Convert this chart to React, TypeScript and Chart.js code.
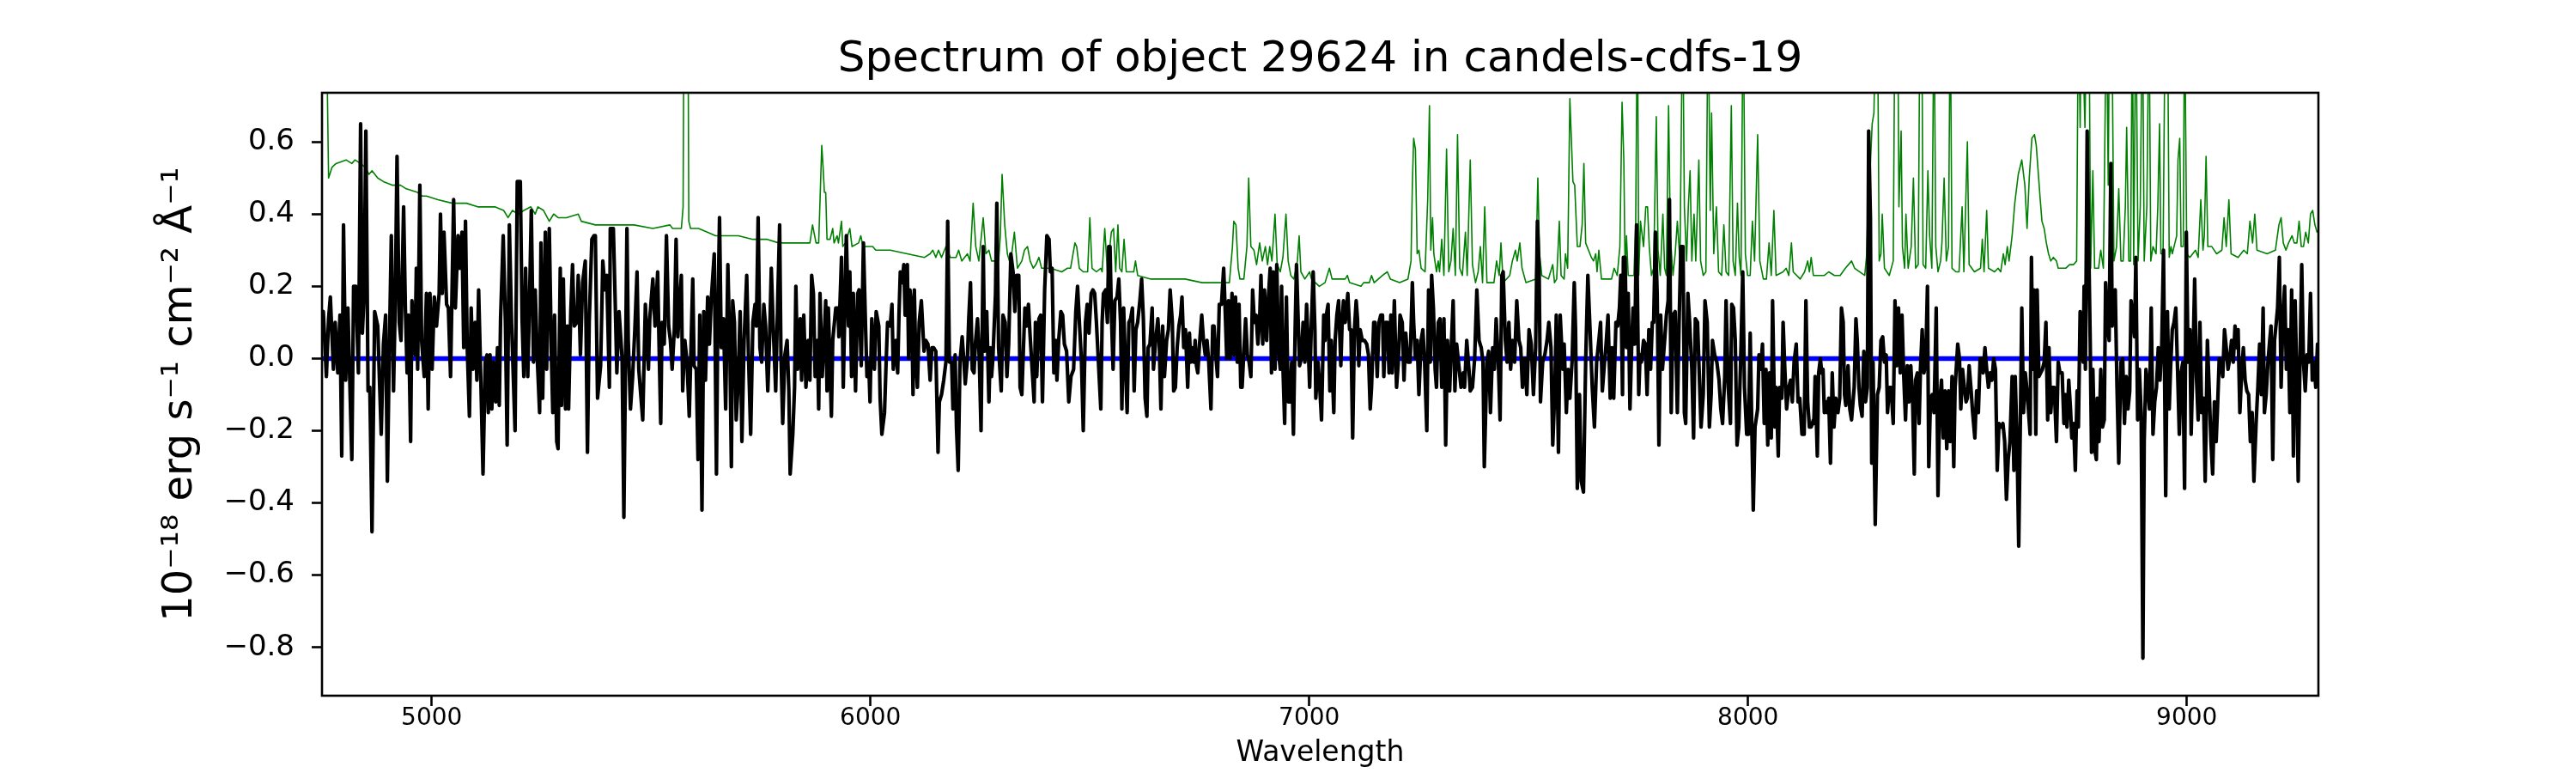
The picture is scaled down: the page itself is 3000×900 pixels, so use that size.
import React, { useEffect, useRef } from "react";
import { Chart, registerables } from "chart.js";

Chart.register(...registerables);

const FONT = "'DejaVu Sans', 'Liberation Sans', sans-serif";
const TITLE = "Spectrum of object 29624 in candels-cdfs-19";
const X_LABEL = "Wavelength";
const Y_LABEL = "10⁻¹⁸ erg s⁻¹ cm⁻² Å⁻¹";
const X_MIN = 4750;
const X_MAX = 9300;
const Y_MIN = -0.934;
const Y_MAX = 0.736;
const X_TICKS = [5000, 6000, 7000, 8000, 9000];
const X_TICK_LABELS = ["5000", "6000", "7000", "8000", "9000"];
const Y_TICKS = [-0.8, -0.6, -0.4, -0.2, 0, 0.2, 0.4, 0.6];
const Y_TICK_LABELS = ["−0.8", "−0.6", "−0.4", "−0.2", "0.0", "0.2", "0.4", "0.6"];

// Zero (continuum) line
const ZERO_LINE: [number, number][] = [[4750, 0], [9300, 0]];

// Observed flux (black), read segment by segment
const FLUX_A: [number, number][] = [[4750,0.12],[4753,0.13],[4760,-0.05],[4765,0.11],[4769,0.17],[4776,-0.03],[4780,0.10],[4786,-0.04],[4791,0.12],[4795,-0.27],[4799,0.37],[4804,-0.06],[4809,0.14],[4818,-0.28],[4822,0.20],[4827,0.20],[4833,-0.04],[4838,0.65],[4842,0.07],[4846,0.18],[4850,0.63],[4855,-0.09],[4859,-0.08],[4864,-0.48],[4870,0.13],[4877,0.09],[4885,-0.21],[4890,0.04],[4895,0.12],[4899,-0.34],[4903,-0.01],[4908,0.34],[4913,-0.09],[4917,0.16],[4921,0.56],[4926,0.10],[4930,0.05],[4936,0.42],[4940,0.14],[4944,-0.04],[4947,0.12],[4952,-0.23],[4955,0.16],[4962,0.01],[4965,0.25],[4968,-0.03],[4973,0.48],[4977,0.05],[4983,-0.05],[4988,0.18],[4992,-0.14],[4996,0.18],[5001,-0.03],[5006,0.17],[5011,0.09],[5017,0.18],[5020,0.40],[5024,0.18],[5028,0.35],[5034,0.15],[5038,0.14],[5043,-0.05],[5050,0.44],[5054,0.14],[5060,0.34],[5064,0.25],[5069,0.35],[5073,0.03],[5077,0.38],[5081,0.03],[5086,-0.16],[5090,0.14],[5094,-0.03],[5099,0.10],[5103,-0.06],[5107,0.19],[5112,-0.06],[5117,-0.32],[5122,-0.01],[5126,0.01],[5129,-0.15],[5133,0.01],[5137,-0.14],[5141,-0.01],[5146,-0.12],[5150,0.03],[5154,-0.13],[5157,0.11],[5163,0.34],[5168,0.10],[5172,-0.24],[5177,0.37],[5182,0.10],[5190,-0.20],[5195,0.49],[5202,0.49],[5206,0.11],[5210,-0.05],[5214,0.25],[5219,-0.05],[5223,0.16],[5227,0.41],[5232,-0.01],[5236,0.19],[5241,-0.01],[5246,-0.15],[5249,0.32],[5253,-0.11],[5259,0.35],[5262,-0.03],[5268,0.36],[5273,0.00],[5276,-0.15],[5280,0.12],[5285,-0.23],[5288,-0.25],[5293,0.25],[5296,-0.13],[5300,0.22],[5305,-0.14],[5309,0.09],[5312,-0.14],[5317,0.13],[5321,0.26],[5325,0.09]];
const FLUX_B: [number, number][] = [[5331,0.10],[5334,0.23],[5339,0.01],[5344,0.21],[5350,0.27],[5355,-0.26],[5359,0.10],[5365,0.33],[5370,0.34],[5373,0.34],[5378,-0.11],[5385,-0.02],[5390,0.27],[5395,0.19],[5399,0.23],[5405,-0.08],[5407,0.36],[5414,0.36],[5418,0.17],[5422,-0.04],[5427,0.13],[5434,0.00],[5438,-0.44],[5445,0.36],[5448,0.05],[5453,-0.14],[5458,-0.05],[5463,0.08],[5468,0.24],[5472,-0.03],[5481,-0.17],[5487,0.15],[5494,-0.03],[5497,0.11],[5504,0.22],[5509,0.09],[5515,0.24],[5518,0.05],[5522,-0.18],[5525,0.10],[5530,0.04],[5535,0.34],[5540,0.09],[5544,0.05],[5548,-0.03],[5553,0.08],[5557,0.33],[5561,0.06],[5566,0.17],[5569,0.23],[5572,-0.09],[5577,0.05],[5582,-0.01],[5587,-0.16],[5595,0.22],[5598,-0.02],[5603,-0.03],[5607,-0.28],[5611,0.12],[5616,-0.42],[5620,0.13],[5624,-0.06],[5629,0.17],[5633,0.04],[5637,0.16],[5644,0.29],[5649,-0.32],[5652,0.10],[5656,0.39],[5660,0.03],[5665,0.11],[5670,-0.14],[5675,0.26],[5680,-0.01],[5683,-0.30],[5686,0.16],[5690,0.10],[5694,-0.17],[5698,-0.08],[5703,0.13],[5707,-0.23],[5712,0.05],[5718,0.23],[5722,0.01],[5727,-0.21],[5732,0.10],[5737,0.15],[5740,0.09],[5744,0.39],[5748,0.03],[5752,-0.01],[5757,0.15],[5761,0.09],[5766,-0.09],[5770,0.05],[5774,0.25],[5778,0.10],[5784,-0.09],[5789,0.18],[5793,0.37],[5796,0.01],[5800,-0.18],[5805,0.01],[5810,0.05],[5814,-0.09],[5817,-0.32],[5823,-0.21],[5827,-0.08],[5830,0.20],[5834,-0.03],[5840,0.11],[5843,-0.06],[5848,0.12],[5853,-0.08],[5858,0.05],[5862,-0.06],[5866,0.23],[5870,0.18],[5874,-0.05],[5879,0.05],[5882,-0.14],[5885,0.18],[5890,-0.05],[5894,0.04]];
const FLUX_C: [number, number][] = [[5898,0.16],[5901,-0.09],[5904,0.14],[5908,-0.03],[5911,-0.16],[5914,0.05],[5921,0.14],[5926,0.14],[5928,0.06],[5934,0.28],[5938,-0.08],[5942,0.16],[5945,0.34],[5950,0.09],[5953,0.24],[5957,-0.05],[5961,0.18],[5966,-0.09],[5971,0.18],[5974,0.19],[5979,-0.02],[5984,0.32],[5989,0.08],[5992,-0.05],[5996,-0.01],[5999,-0.12],[6003,0.11],[6009,-0.03],[6013,0.13],[6019,0.09],[6022,-0.11],[6026,-0.21],[6032,-0.15],[6036,0.00],[6039,0.10],[6045,0.09],[6049,0.15],[6052,-0.03],[6058,0.05],[6062,-0.04],[6065,0.12],[6068,0.24],[6072,0.21],[6076,0.26],[6079,0.12],[6084,0.26],[6087,0.00],[6090,0.19],[6094,0.14],[6097,-0.10],[6100,0.19],[6103,0.01],[6107,-0.08],[6111,0.10],[6116,0.16],[6122,0.02],[6126,0.05],[6131,0.04],[6136,-0.06],[6140,0.03],[6144,0.03],[6149,0.02],[6154,-0.26],[6157,-0.12],[6162,-0.10],[6167,-0.06],[6172,-0.01],[6176,0.38],[6180,-0.01],[6185,-0.01],[6188,-0.14],[6193,0.01],[6196,-0.19],[6200,-0.31],[6204,-0.01],[6209,0.06],[6213,-0.01],[6216,-0.07],[6221,0.00],[6224,0.11],[6228,0.21],[6232,-0.03],[6236,-0.04],[6239,0.04],[6244,0.11],[6248,0.00],[6252,-0.20],[6257,0.31],[6260,0.02],[6265,0.13],[6270,-0.12],[6273,0.03],[6276,-0.05],[6279,0.00],[6285,0.18],[6288,0.43],[6292,0.03],[6298,-0.09],[6302,0.12],[6307,0.10],[6311,-0.05],[6315,0.04],[6320,0.29],[6325,0.24],[6329,0.13],[6333,0.23],[6338,0.23],[6341,-0.08],[6345,-0.10],[6349,0.04],[6352,0.14],[6356,0.09],[6360,0.15],[6364,0.06],[6369,-0.04],[6373,-0.12],[6376,0.10],[6379,-0.05],[6384,0.11],[6388,0.12],[6392,-0.12],[6397,0.19],[6402,0.34],[6407,0.33],[6410,0.24],[6414,0.25],[6418,-0.04],[6422,0.05],[6425,-0.06],[6429,0.05],[6434,0.13],[6438,0.12],[6442,0.04],[6447,0.02],[6452,-0.12],[6457,-0.05]];
const FLUX_D: [number, number][] = [[6463,-0.03],[6468,0.13],[6472,0.20],[6477,0.08],[6481,-0.01],[6485,-0.20],[6490,0.10],[6494,0.15],[6498,0.07],[6503,0.18],[6507,0.19],[6511,0.18],[6515,0.10],[6520,-0.02],[6525,-0.14],[6528,0.10],[6531,0.18],[6536,0.19],[6540,0.10],[6543,0.31],[6546,0.31],[6549,0.13],[6553,-0.03],[6557,0.16],[6562,0.17],[6566,0.22],[6570,0.10],[6573,-0.14],[6577,0.14],[6581,-0.01],[6585,-0.15],[6589,0.10],[6593,0.11],[6597,0.14],[6601,-0.09],[6605,0.08],[6609,0.10],[6614,0.16],[6618,0.22],[6622,0.11],[6626,-0.11],[6630,-0.16],[6633,0.03],[6637,0.04],[6642,0.14],[6645,-0.03],[6650,0.05],[6655,0.11],[6658,0.05],[6662,-0.14],[6666,0.09],[6670,-0.05],[6675,0.05],[6679,0.08],[6683,0.19],[6688,0.10],[6691,-0.09],[6695,-0.08],[6699,0.03],[6703,0.09],[6707,0.12],[6710,0.17],[6714,0.03],[6718,0.08],[6723,-0.08],[6727,0.07],[6730,-0.01],[6733,0.03],[6737,-0.01],[6740,0.05],[6743,-0.02],[6746,-0.04],[6750,0.04],[6755,0.12],[6759,0.05],[6763,0.01],[6767,0.05],[6771,-0.01],[6776,-0.14],[6780,0.09],[6783,0.09],[6787,0.01],[6791,-0.05],[6795,0.15],[6800,0.15],[6805,0.25],[6808,0.15],[6812,0.00],[6816,0.16],[6820,0.00],[6824,0.18],[6828,0.01],[6832,0.17],[6836,-0.01],[6840,0.15],[6844,-0.08],[6847,-0.08],[6851,0.02],[6855,0.11],[6859,0.01],[6863,-0.01],[6867,-0.05],[6871,0.19],[6875,0.10],[6879,0.12],[6883,0.04],[6887,0.11],[6890,0.23],[6894,0.04],[6898,0.19],[6903,0.05],[6907,0.17],[6911,0.25],[6914,-0.04],[6918,0.24],[6922,-0.03],[6926,0.26],[6930,0.02],[6934,-0.03],[6937,0.20],[6940,-0.02],[6944,-0.18],[6948,0.17],[6952,-0.12],[6956,-0.12],[6960,-0.01],[6964,-0.21],[6968,0.09],[6971,0.26],[6975,0.10],[6978,-0.02],[6982,0.00],[6986,0.10],[6990,-0.01],[6994,0.15],[6997,0.06],[7001,-0.08],[7005,0.10],[7009,0.24],[7013,0.08]];
const FLUX_E: [number, number][] = [[7015,-0.11],[7020,-0.01],[7024,-0.08],[7028,-0.17],[7033,0.12],[7036,0.05],[7039,0.12],[7043,0.15],[7047,-0.09],[7050,0.05],[7056,-0.15],[7059,0.05],[7063,0.12],[7067,0.16],[7072,-0.02],[7075,0.10],[7078,0.16],[7082,0.10],[7085,0.14],[7088,0.18],[7092,0.08],[7095,0.08],[7099,-0.22],[7103,0.08],[7107,0.16],[7110,0.11],[7113,-0.02],[7116,0.08],[7121,0.05],[7126,0.05],[7131,0.04],[7135,0.01],[7139,-0.14],[7142,-0.08],[7147,0.10],[7150,0.10],[7155,-0.05],[7159,0.10],[7163,0.12],[7167,0.12],[7170,-0.05],[7174,0.10],[7178,0.10],[7182,-0.04],[7186,0.12],[7189,-0.04],[7194,0.16],[7199,-0.08],[7203,-0.01],[7207,0.12],[7212,0.10],[7216,-0.06],[7220,0.07],[7225,-0.01],[7230,-0.01],[7235,0.21],[7238,0.10],[7242,0.00],[7246,0.05],[7250,-0.10],[7255,0.05],[7259,0.08],[7263,-0.01],[7268,-0.20],[7272,0.19],[7276,-0.01],[7279,0.23],[7283,0.14],[7287,-0.03],[7290,-0.08],[7294,0.10],[7298,0.11],[7302,-0.08],[7307,0.11],[7311,-0.24],[7315,0.05],[7320,-0.09],[7323,0.01],[7328,0.16],[7332,-0.09],[7336,0.04],[7341,-0.02],[7346,-0.08],[7351,-0.04],[7354,-0.08],[7359,0.05],[7364,-0.03],[7367,-0.09],[7372,-0.08],[7377,0.00],[7382,0.19],[7387,0.05],[7392,0.03],[7396,-0.01],[7399,-0.30],[7405,-0.01],[7409,0.02],[7413,-0.15],[7418,0.03],[7422,-0.03],[7426,0.11],[7431,-0.01],[7435,-0.17],[7439,0.23],[7442,0.24],[7447,0.05],[7451,-0.01],[7455,0.10],[7459,-0.03],[7463,0.05],[7468,-0.01],[7473,0.16],[7478,0.05],[7482,0.03],[7486,-0.08],[7491,0.00],[7496,-0.10],[7501,0.08],[7506,0.04],[7511,-0.10],[7516,0.03],[7520,0.38],[7524,0.24],[7527,-0.12],[7532,-0.01],[7537,0.01],[7542,0.05],[7546,0.10],[7551,0.03],[7555,-0.24],[7560,-0.08],[7563,0.12],[7568,-0.26],[7572,0.12],[7578,-0.03]];
const FLUX_F: [number, number][] = [[7581,0.04],[7586,-0.15],[7590,-0.03],[7594,-0.11],[7599,-0.01],[7604,0.21],[7607,0.08],[7611,-0.36],[7616,-0.10],[7620,-0.34],[7625,-0.37],[7630,-0.01],[7635,0.23],[7640,0.08],[7645,-0.08],[7650,-0.19],[7655,-0.01],[7660,0.05],[7664,0.10],[7668,-0.09],[7673,-0.01],[7676,0.03],[7681,0.12],[7686,-0.11],[7690,0.03],[7694,-0.11],[7699,0.10],[7703,0.09],[7707,0.14],[7710,0.23],[7714,-0.10],[7716,0.28],[7720,0.28],[7723,0.03],[7727,0.18],[7731,-0.14],[7735,0.04],[7738,0.14],[7742,0.04],[7746,0.37],[7751,-0.10],[7754,0.01],[7757,-0.01],[7762,0.05],[7766,0.04],[7770,-0.10],[7774,0.08],[7778,-0.03],[7782,0.10],[7785,0.10],[7789,0.35],[7793,0.18],[7797,-0.24],[7801,0.12],[7805,-0.03],[7810,0.05],[7814,0.12],[7818,0.16],[7821,0.44],[7825,-0.15],[7829,0.12],[7834,0.13],[7839,-0.15],[7843,0.10],[7847,0.31],[7852,0.31],[7855,-0.15],[7858,-0.18],[7863,0.18],[7867,0.10],[7872,-0.03],[7876,-0.22],[7880,0.11],[7885,0.10],[7888,-0.01],[7893,-0.19],[7898,-0.10],[7902,0.16],[7907,0.10],[7912,-0.19],[7916,-0.10],[7919,0.05],[7924,0.01],[7929,-0.01],[7934,-0.06],[7938,-0.14],[7942,-0.18],[7947,-0.05],[7950,0.16],[7955,-0.08],[7960,-0.18],[7963,0.15],[7967,0.14],[7971,0.05],[7975,-0.24],[7979,-0.19],[7984,0.03],[7988,0.24],[7992,-0.08],[7997,-0.21],[8001,-0.21],[8005,0.07],[8009,-0.21],[8012,-0.42],[8016,-0.19],[8022,-0.14],[8025,0.01],[8029,-0.03],[8033,0.04],[8037,-0.18],[8041,-0.03],[8045,-0.24],[8049,-0.04],[8053,-0.22],[8056,0.16],[8061,-0.19],[8064,-0.08],[8069,-0.27],[8072,-0.08],[8077,-0.11],[8080,0.10],[8084,-0.03],[8088,-0.14],[8093,-0.08],[8097,-0.06],[8101,-0.12],[8105,-0.01],[8110,0.04],[8114,-0.12],[8118,-0.11],[8123,-0.21],[8128,-0.21],[8132,0.16],[8136,-0.12],[8140,-0.19],[8144,-0.19],[8149,-0.17]];
const FLUX_G: [number, number][] = [[8150,-0.18],[8153,-0.05],[8158,-0.27],[8161,-0.04],[8165,0.00],[8168,-0.04],[8171,-0.03],[8174,-0.15],[8178,-0.12],[8181,-0.15],[8184,-0.11],[8188,-0.29],[8192,-0.04],[8196,-0.19],[8200,-0.11],[8205,-0.15],[8209,-0.11],[8213,0.14],[8217,0.10],[8220,-0.10],[8223,-0.13],[8228,-0.02],[8232,-0.14],[8236,-0.17],[8242,-0.08],[8246,0.11],[8249,0.05],[8253,-0.08],[8256,-0.13],[8260,-0.16],[8264,0.02],[8268,-0.12],[8272,-0.08],[8275,0.63],[8279,0.39],[8282,-0.29],[8285,-0.01],[8290,-0.46],[8295,-0.10],[8299,-0.08],[8303,0.05],[8307,0.06],[8311,-0.01],[8315,0.01],[8318,-0.15],[8322,-0.08],[8326,-0.08],[8331,-0.18],[8335,0.16],[8339,-0.02],[8343,0.14],[8347,-0.04],[8351,0.12],[8355,-0.05],[8359,-0.17],[8363,-0.02],[8367,-0.12],[8371,-0.02],[8375,-0.11],[8379,-0.32],[8382,-0.06],[8386,-0.04],[8390,-0.18],[8393,-0.03],[8397,0.08],[8401,-0.04],[8405,-0.01],[8409,0.20],[8412,-0.30],[8416,-0.11],[8420,-0.10],[8424,-0.15],[8429,0.14],[8433,-0.38],[8437,-0.12],[8441,-0.06],[8445,-0.22],[8449,-0.09],[8453,-0.25],[8457,-0.09],[8461,-0.23],[8465,-0.05],[8469,-0.30],[8472,-0.08],[8478,0.04],[8482,0.00],[8485,-0.14],[8489,-0.03],[8493,-0.08],[8497,-0.12],[8500,-0.11],[8504,-0.02],[8508,-0.08],[8512,-0.15],[8517,-0.22],[8521,-0.09],[8525,-0.15],[8529,0.00],[8532,0.00],[8536,-0.04],[8540,0.03],[8544,-0.03],[8548,-0.08],[8552,-0.04],[8556,-0.06],[8560,0.00],[8564,-0.03],[8568,-0.31],[8572,-0.18],[8577,-0.19],[8581,-0.18],[8585,-0.23],[8589,-0.39],[8593,-0.28],[8597,-0.23],[8602,-0.05],[8606,-0.31],[8609,-0.05],[8613,-0.22],[8617,-0.52],[8621,-0.15],[8624,0.14],[8628,-0.15],[8632,-0.04],[8636,-0.09],[8639,-0.14],[8643,-0.21],[8646,0.28],[8649,-0.03],[8652,0.19],[8656,-0.21],[8659,0.19],[8663,-0.05],[8667,-0.04],[8671,-0.03],[8675,-0.01],[8679,0.10],[8683,-0.17],[8686,0.03],[8690,-0.15],[8694,-0.08],[8698,-0.08],[8703,-0.23],[8707,-0.01],[8711,-0.04]];
const FLUX_H: [number, number][] = [[8716,-0.04],[8720,-0.18],[8723,-0.10],[8727,-0.19],[8731,-0.06],[8735,-0.14],[8738,-0.22],[8742,-0.18],[8746,-0.31],[8750,-0.09],[8753,-0.19],[8757,0.13],[8761,0.05],[8764,-0.01],[8766,0.20],[8769,-0.03],[8773,0.63],[8777,0.28],[8780,0.04],[8783,-0.26],[8786,-0.03],[8790,-0.25],[8794,-0.28],[8796,-0.11],[8800,-0.23],[8804,-0.03],[8808,-0.19],[8812,-0.17],[8815,0.21],[8819,0.10],[8823,0.05],[8827,0.54],[8830,0.09],[8834,0.18],[8837,0.19],[8841,-0.08],[8845,-0.29],[8850,-0.01],[8854,0.00],[8858,-0.18],[8862,-0.05],[8866,-0.14],[8870,-0.09],[8873,0.16],[8877,0.12],[8881,0.06],[8884,0.28],[8888,-0.17],[8892,-0.03],[8896,-0.15],[8900,-0.83],[8903,-0.23],[8907,-0.03],[8911,-0.08],[8915,-0.14],[8919,0.14],[8923,-0.21],[8927,-0.12],[8931,-0.08],[8935,0.03],[8939,-0.06],[8943,0.04],[8947,0.30],[8949,0.01],[8952,-0.38],[8956,0.13],[8960,-0.14],[8963,-0.03],[8967,0.08],[8971,0.10],[8975,0.14],[8979,-0.03],[8983,-0.21],[8987,-0.04],[8991,-0.01],[8995,-0.36],[8999,0.35],[9003,-0.01],[9007,0.08],[9010,-0.21],[9014,-0.01],[9018,0.22],[9022,-0.05],[9026,-0.17],[9030,0.10],[9034,-0.15],[9038,-0.11],[9042,-0.34],[9047,0.05],[9051,-0.08],[9055,-0.23],[9059,-0.32],[9063,-0.12],[9067,-0.23],[9070,-0.14],[9074,0.00],[9078,-0.01],[9082,-0.05],[9086,0.08],[9090,0.03],[9094,-0.03],[9098,0.00],[9102,0.05],[9106,-0.01],[9110,0.09],[9114,0.03],[9117,0.08],[9121,-0.15],[9125,-0.04],[9129,0.03],[9133,-0.06],[9137,-0.09],[9141,-0.10],[9145,-0.23],[9149,-0.15],[9153,-0.34],[9158,-0.18],[9162,-0.08],[9166,0.04],[9170,-0.10],[9174,0.14],[9177,-0.15],[9181,-0.10],[9185,-0.01],[9189,0.05],[9192,0.09],[9196,-0.28],[9200,0.05],[9204,0.10],[9207,0.14],[9211,0.28],[9215,-0.08],[9219,0.11],[9223,0.20],[9227,-0.03],[9231,0.08],[9235,-0.15],[9239,0.19],[9243,-0.27],[9247,0.16],[9250,-0.01],[9254,-0.34],[9258,-0.01],[9262,0.26],[9266,-0.01],[9270,-0.09],[9274,0.01],[9278,-0.01],[9282,0.18],[9286,-0.06],[9290,-0.01],[9294,-0.08],[9298,0.04],[9301,0.01]];

// Noise / sky spectrum (green), read segment by segment
const NOISE_A: [number, number][] = [[4750,1.6],[4757,1.2],[4765,0.50],[4773,0.53],[4782,0.54],[4805,0.55],[4818,0.54],[4825,0.55],[4838,0.54],[4848,0.53],[4857,0.51],[4864,0.52],[4877,0.50],[4890,0.49],[4910,0.48],[4929,0.48],[4942,0.47],[4968,0.46],[4978,0.45],[4988,0.45],[5014,0.44],[5047,0.43],[5079,0.43],[5105,0.42],[5131,0.42],[5144,0.42],[5164,0.41],[5174,0.39],[5184,0.41],[5197,0.40],[5210,0.41],[5226,0.42],[5236,0.40],[5242,0.42],[5255,0.41],[5268,0.38],[5278,0.40],[5288,0.39],[5307,0.39]];
const NOISE_B: [number, number][] = [[5334,0.40],[5341,0.38],[5373,0.37],[5406,0.37],[5438,0.37],[5461,0.37],[5504,0.36],[5543,0.37],[5549,0.36],[5569,0.36],[5573,0.42],[5576,1.3],[5583,1.3],[5586,0.38],[5590,0.36],[5608,0.36],[5628,0.35],[5647,0.34],[5673,0.34],[5699,0.34],[5732,0.33],[5765,0.33],[5791,0.32],[5830,0.32],[5862,0.32],[5868,0.37],[5876,0.32],[5882,0.32],[5889,0.59],[5892,0.53]];
const NOISE_C: [number, number][] = [[5895,0.46],[5898,0.46],[5901,0.33],[5908,0.33],[5914,0.36],[5917,0.32],[5924,0.34],[5927,0.32],[5934,0.38],[5937,0.31],[5943,0.32],[5953,0.36],[5958,0.31],[5973,0.32],[5978,0.34],[5983,0.31],[6005,0.31],[6012,0.30],[6045,0.30],[6084,0.29],[6123,0.28],[6136,0.29],[6142,0.30],[6149,0.28],[6155,0.30],[6162,0.28],[6172,0.31],[6182,0.28],[6195,0.28],[6201,0.30],[6208,0.27],[6221,0.29],[6227,0.27],[6234,0.43],[6240,0.31],[6247,0.27],[6257,0.39],[6263,0.29],[6270,0.30],[6276,0.27],[6292,0.27],[6296,0.34],[6300,0.51],[6306,0.37],[6312,0.29],[6319,0.26],[6328,0.35],[6335,0.25],[6345,0.27],[6351,0.30],[6358,0.31],[6364,0.27],[6371,0.25],[6377,0.26],[6384,0.28],[6390,0.25],[6410,0.25],[6436,0.24],[6449,0.25]];
const NOISE_D: [number, number][] = [[6456,0.25],[6466,0.32],[6470,0.31],[6476,0.25],[6485,0.24],[6495,0.24],[6500,0.39],[6505,0.25],[6515,0.24],[6525,0.25],[6528,0.24],[6534,0.36],[6540,0.24],[6549,0.35],[6554,0.36],[6559,0.24],[6564,0.37],[6568,0.25],[6573,0.24],[6578,0.33],[6583,0.24],[6600,0.24],[6604,0.27],[6609,0.23],[6639,0.22],[6678,0.22],[6717,0.22],[6756,0.21],[6795,0.21],[6818,0.21],[6825,0.31],[6828,0.38],[6833,0.37],[6838,0.25],[6842,0.22],[6851,0.22],[6858,0.31],[6862,0.50],[6867,0.31],[6874,0.30],[6880,0.26],[6887,0.32],[6893,0.27],[6900,0.31],[6905,0.26],[6910,0.31],[6915,0.27],[6922,0.40],[6927,0.26],[6934,0.24],[6940,0.28],[6947,0.40],[6952,0.27],[6958,0.23],[6965,0.22],[6973,0.27],[6977,0.34],[6981,0.24],[6990,0.22],[7001,0.24],[7005,0.22],[7014,0.21]];
const NOISE_E: [number, number][] = [[7023,0.20],[7036,0.21],[7046,0.25],[7052,0.22],[7062,0.22],[7082,0.22],[7087,0.23],[7092,0.21],[7118,0.20],[7124,0.21],[7137,0.21],[7142,0.23],[7148,0.21],[7167,0.23],[7178,0.24],[7185,0.22],[7206,0.21],[7225,0.22],[7232,0.27],[7235,0.48],[7238,0.61],[7242,0.58],[7246,0.29],[7250,0.30],[7255,0.25],[7264,0.24],[7270,0.44],[7274,0.70],[7277,0.30],[7281,0.39],[7284,0.29],[7290,0.24],[7294,0.27],[7297,0.24],[7302,0.33],[7307,0.23],[7313,0.58],[7318,0.24],[7323,0.27],[7328,0.36],[7333,0.23],[7338,0.62],[7343,0.25],[7349,0.23],[7356,0.35],[7360,0.23],[7367,0.55],[7372,0.26],[7379,0.21],[7385,0.24],[7390,0.31],[7395,0.21],[7400,0.42],[7405,0.21],[7421,0.21],[7427,0.27],[7433,0.23],[7437,0.32],[7442,0.21],[7457,0.23],[7463,0.27],[7470,0.30],[7474,0.27],[7480,0.32],[7485,0.25],[7494,0.21],[7516,0.22],[7521,0.50],[7525,0.29],[7530,0.23],[7545,0.22],[7555,0.26],[7559,0.21],[7564,0.22],[7570,0.38],[7574,0.23],[7581,0.22],[7584,0.29],[7589,0.25],[7594,0.72]];
const NOISE_F: [number, number][] = [[7601,0.49],[7605,0.48],[7611,0.31],[7617,0.31],[7622,0.37],[7626,0.54],[7630,0.32],[7643,0.28],[7648,0.27],[7653,0.29],[7656,0.24],[7660,0.30],[7666,0.22],[7682,0.22],[7689,0.22],[7695,0.25],[7702,0.23],[7708,0.31],[7713,0.71],[7717,0.55],[7720,0.23],[7723,0.34],[7727,0.23],[7740,0.23],[7744,0.37],[7748,1.0],[7751,0.23],[7755,0.38],[7762,0.31],[7767,0.42],[7771,0.42],[7775,0.31],[7780,0.23],[7785,0.25],[7791,0.67],[7795,0.30],[7800,0.23],[7806,0.40],[7810,0.25],[7814,0.23],[7819,0.70],[7823,0.34],[7829,0.23],[7834,0.29],[7839,0.38],[7845,0.27],[7851,1.0],[7855,0.42],[7860,0.27],[7864,0.42],[7868,0.52],[7872,0.27],[7877,0.40],[7881,0.27],[7888,0.55],[7892,0.27],[7898,0.23],[7904,0.24],[7909,1.0],[7914,0.41],[7917,0.68],[7922,0.29],[7928,0.42],[7933,0.24],[7940,0.23],[7945,0.37],[7950,0.24],[7956,0.23],[7962,0.70],[7966,0.27],[7971,0.23],[7976,0.43],[7980,0.28],[7984,0.23],[7989,1.0],[7994,0.29],[7999,0.23],[8005,0.23],[8010,0.38],[8015,0.27],[8022,0.62],[8027,0.27],[8035,0.22],[8042,0.22],[8048,0.32],[8053,0.23],[8059,0.41],[8064,0.23],[8080,0.24],[8087,0.25],[8093,0.23],[8099,0.32],[8103,0.24],[8119,0.22],[8129,0.24],[8136,0.27],[8140,0.24],[8144,0.28],[8149,0.23],[8165,0.23]];
const NOISE_G: [number, number][] = [[8174,0.23],[8184,0.24],[8197,0.23],[8210,0.23],[8222,0.25],[8236,0.27],[8243,0.25],[8266,0.23],[8270,0.28],[8275,0.48],[8279,0.54],[8283,0.65],[8287,0.68],[8292,1.0],[8295,1.0],[8299,0.27],[8303,0.29],[8306,0.40],[8311,0.25],[8322,0.23],[8331,0.27],[8335,1.0],[8341,1.0],[8344,0.42],[8349,0.63],[8352,0.31],[8357,0.25],[8360,0.40],[8365,0.25],[8372,0.31],[8377,0.50],[8382,0.25],[8388,0.26],[8392,1.0],[8396,1.0],[8399,0.26],[8405,0.25],[8410,0.52],[8414,0.34],[8419,0.25],[8424,1.0],[8428,0.31],[8433,0.24],[8439,0.27],[8442,0.32],[8447,0.50],[8452,0.27],[8457,0.31],[8461,1.0],[8465,0.25],[8474,0.24],[8481,0.24],[8488,0.42],[8492,0.24],[8500,0.60],[8504,0.26],[8516,0.24],[8530,0.25],[8534,0.33],[8538,0.24],[8544,0.41],[8548,0.25],[8562,0.24],[8570,0.25],[8576,0.24],[8582,0.29],[8586,0.26],[8591,0.31],[8595,0.27],[8602,0.34],[8608,0.43],[8616,0.51],[8624,0.55],[8631,0.48],[8636,0.36],[8641,0.50],[8647,0.61],[8653,0.62],[8657,0.59],[8660,0.54],[8666,0.44],[8670,0.38],[8675,0.36],[8680,0.32],[8685,0.29],[8690,0.27],[8696,0.28],[8703,0.27],[8707,0.25],[8724,0.25]];
const NOISE_H: [number, number][] = [[8733,0.26],[8742,0.26],[8749,0.27],[8753,1.0],[8757,0.64],[8760,1.0],[8768,0.64],[8772,1.0],[8777,1.0],[8781,0.25],[8786,0.52],[8790,0.25],[8799,0.25],[8804,0.30],[8810,0.25],[8817,1.0],[8821,0.48],[8824,1.0],[8829,1.0],[8834,0.27],[8840,0.31],[8845,0.47],[8850,0.27],[8855,0.27],[8860,0.42],[8863,0.64],[8868,0.27],[8872,0.27],[8876,1.0],[8879,0.26],[8884,1.0],[8889,0.27],[8894,0.42],[8899,1.0],[8903,0.27],[8909,0.42],[8914,1.0],[8918,0.27],[8923,0.31],[8930,0.29],[8934,0.42],[8938,0.65],[8941,0.29],[8946,0.29],[8951,1.0],[8956,1.0],[8960,0.28],[8964,0.31],[8967,0.29],[8973,0.32],[8977,0.34],[8980,0.55],[8984,0.61],[8987,0.31],[8992,0.31],[8995,1.0],[9000,0.29],[9007,0.28],[9020,0.30],[9026,0.28],[9032,0.44],[9037,0.30],[9040,0.34],[9044,0.56],[9048,0.31],[9057,0.31],[9068,0.29],[9080,0.30],[9085,0.39],[9090,0.31],[9096,0.44],[9101,0.29],[9117,0.28],[9130,0.30],[9138,0.29],[9144,0.38],[9150,0.32],[9155,0.40],[9160,0.30],[9183,0.29],[9202,0.30],[9210,0.37],[9215,0.39],[9220,0.32],[9226,0.30],[9232,0.32],[9240,0.34],[9245,0.32],[9251,0.32],[9256,0.38],[9261,0.31],[9266,0.31],[9271,0.35],[9277,0.32],[9282,0.40],[9287,0.41],[9292,0.37],[9297,0.35],[9302,0.36]];

const toPoints = (segs: [number, number][][]) =>
  segs.flat().map(([x, y]) => ({ x, y }));

const framePlugin = {
  id: "axesFrame",
  afterDraw(chart: any) {
    const { ctx, chartArea: a } = chart;
    ctx.save();
    ctx.strokeStyle = "#000";
    ctx.lineWidth = 2.6;
    ctx.strokeRect(a.left, a.top, a.right - a.left, a.bottom - a.top);
    ctx.restore();
  },
};

export default function App() {
  const canvasRef = useRef<HTMLCanvasElement | null>(null);

  useEffect(() => {
    document.body.style.margin = "0";
    const canvas = canvasRef.current;
    if (!canvas) return;
    Chart.defaults.font.family = FONT;

    const flux = toPoints([FLUX_A, FLUX_B, FLUX_C, FLUX_D, FLUX_E, FLUX_F, FLUX_G, FLUX_H]);
    const noise = toPoints([NOISE_A, NOISE_B, NOISE_C, NOISE_D, NOISE_E, NOISE_F, NOISE_G, NOISE_H]);
    const zero = toPoints([ZERO_LINE]);

    const chart = new Chart(canvas, {
      type: "line",
      data: {
        datasets: [
          {
            label: "flux",
            data: flux,
            borderColor: "#000000",
            borderWidth: 4.2,
            pointRadius: 0,
            pointHoverRadius: 0,
            tension: 0,
            fill: false,
            borderJoinStyle: "round",
            borderCapStyle: "butt",
            order: 0,
          },
          {
            label: "noise",
            data: noise,
            borderColor: "#008000",
            borderWidth: 1.6,
            pointRadius: 0,
            pointHoverRadius: 0,
            tension: 0,
            fill: false,
            borderJoinStyle: "round",
            order: 1,
          },
          {
            label: "zero",
            data: zero,
            borderColor: "#0000ff",
            borderWidth: 5.5,
            pointRadius: 0,
            pointHoverRadius: 0,
            tension: 0,
            fill: false,
            order: 2,
          },
        ],
      },
      options: {
        animation: false,
        responsive: false,
        devicePixelRatio: 1,
        events: [],
        layout: { padding: { left: 0, right: 300, top: 0, bottom: 0 } },
        plugins: {
          legend: { display: false },
          tooltip: { enabled: false },
          title: {
            display: true,
            text: TITLE,
            color: "#000",
            fullSize: false,
            font: { size: 50, weight: "normal", family: FONT },
            padding: { top: 40, bottom: 8 },
          },
        },
        scales: {
          x: {
            type: "linear",
            min: X_MIN,
            max: X_MAX,
            afterFit: (s: any) => {
              s.height = 90;
            },
            afterBuildTicks: (s: any) => {
              s.ticks = X_TICKS.map((v) => ({ value: v }));
            },
            ticks: {
              color: "#000",
              font: { size: 28, family: FONT },
              padding: -2,
              maxRotation: 0,
              autoSkip: false,
              callback: (v: any) => X_TICK_LABELS[X_TICKS.indexOf(Number(v))] ?? String(v),
            },
            grid: {
              display: true,
              drawOnChartArea: false,
              drawTicks: true,
              tickLength: 12,
              tickWidth: 2.6,
              tickColor: "#000",
            },
            border: { display: false },
            title: {
              display: true,
              text: X_LABEL,
              color: "#000",
              font: { size: 33, family: FONT },
              padding: { top: 0, bottom: 3 },
            },
          },
          y: {
            type: "linear",
            min: Y_MIN,
            max: Y_MAX,
            afterFit: (s: any) => {
              s.width = 375;
            },
            afterBuildTicks: (s: any) => {
              s.ticks = Y_TICKS.map((v) => ({ value: v }));
            },
            ticks: {
              color: "#000",
              font: { size: 34, family: FONT },
              padding: 20,
              autoSkip: false,
              callback: (v: any) => {
                const i = Y_TICKS.findIndex((t) => Math.abs(t - Number(v)) < 1e-9);
                return i >= 0 ? Y_TICK_LABELS[i] : String(v);
              },
            },
            grid: {
              display: true,
              drawOnChartArea: false,
              drawTicks: true,
              tickLength: 12,
              tickWidth: 2.6,
              tickColor: "#000",
            },
            border: { display: false },
            title: {
              display: true,
              text: Y_LABEL,
              color: "#000",
              font: { size: 48, family: FONT },
              padding: { top: 182, bottom: 0 },
            },
          },
        },
      },
      plugins: [framePlugin],
    } as any);

    return () => chart.destroy();
  }, []);

  return (
    <div
      style={{
        position: "absolute",
        left: 0,
        top: 0,
        width: 3000,
        height: 900,
        background: "#ffffff",
      }}
    >
      <canvas
        ref={canvasRef}
        width={3000}
        height={900}
        style={{ display: "block", width: 3000, height: 900 }}
      />
    </div>
  );
}
